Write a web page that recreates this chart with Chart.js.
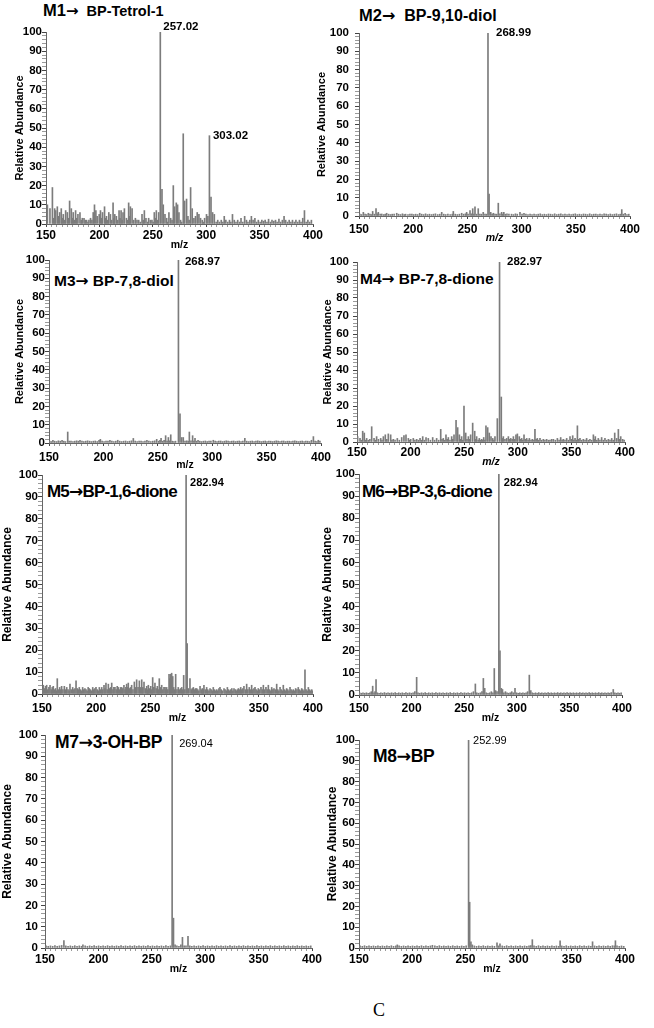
<!DOCTYPE html>
<html><head><meta charset="utf-8">
<script src="https://cdn.jsdelivr.net/npm/chart.js@4.4.1/dist/chart.umd.min.js"></script>
<style>
html,body{margin:0;padding:0;background:#fff;}
body{width:654px;height:1028px;position:relative;overflow:hidden;font-family:"Liberation Sans",Arial,sans-serif;}
canvas{position:absolute;}
.ttl{position:absolute;font-weight:bold;color:#000;white-space:pre;line-height:1;}
.ar{font-family:"DejaVu Sans",sans-serif;font-weight:bold;}
.cap{position:absolute;font-family:"Liberation Serif","Times New Roman",serif;font-size:18px;color:#000;line-height:1;}
</style></head><body>
<div class="ttl" style="left:43px;top:2px;"><span style="font-size:16.5px">M1</span><span class="ar" style="font-size:15px">→</span><span style="font-size:14.5px">  BP-Tetrol-1</span></div>
<div class="ttl" style="left:359px;top:7px;font-size:16px;"><span style="font-size:16.5px">M2</span><span class="ar">→</span>  BP-9,10-diol</div>
<div class="ttl" style="left:54px;top:273px;font-size:15.5px;">M3<span class="ar">→</span> BP-7,8-diol</div>
<div class="ttl" style="left:360px;top:271px;font-size:15.5px;">M4<span class="ar">→</span> BP-7,8-dione</div>
<div class="ttl" style="left:47px;top:483px;font-size:17px;letter-spacing:-0.8px;">M5<span class="ar">→</span>BP-1,6-dione</div>
<div class="ttl" style="left:362px;top:483px;font-size:17px;letter-spacing:-0.8px;">M6<span class="ar">→</span>BP-3,6-dione</div>
<div class="ttl" style="left:55px;top:734px;font-size:17.5px;letter-spacing:-0.4px;">M7<span class="ar">→</span>3-OH-BP</div>
<div class="ttl" style="left:373px;top:748px;font-size:17.5px;letter-spacing:-0.4px;">M8<span class="ar">→</span>BP</div>
<div class="cap" style="left:373px;top:1001px;">C</div>
<script>
// ---------- axis tick labels ----------
const xTickLabels = [150, 200, 250, 300, 350, 400];
const yTickLabels = [0, 10, 20, 30, 40, 50, 60, 70, 80, 90, 100];

// ---------- M1 -> BP-Tetrol-1 ----------
const m1Mz = [
151.3,153.7,156.0,157.2,158.1,159.0,160.6,161.7,162.8,164.3,
165.2,166.2,167.3,168.4,170.0,171.0,172.1,173.7,174.6,175.5,
176.5,177.7,178.8,179.9,181.8,183.0,184.0,185.6,186.7,188.0,
189.3,190.2,191.7,193.0,194.2,195.4,196.7,197.9,199.8,201.0,
202.0,202.9,204.8,205.7,206.6,207.7,208.8,210.3,211.5,212.8,
213.6,214.4,215.9,217.1,218.4,219.3,220.3,221.2,222.1,223.4,
225.3,226.3,227.4,228.2,229.0,230.6,232.1,233.7,235.2,236.8,
238.3,239.9,241.0,242.1,243.6,245.0,246.1,247.7,249.2,250.3,
251.4,252.4,253.3,254.4,255.5,257.02,258.6,259.8,261.4,263.0,
264.0,265.1,266.7,268.0,269.2,270.4,272.0,273.2,274.5,276.0,
277.0,278.5,279.8,281.6,282.9,284.0,285.4,286.9,288.5,290.0,
291.6,293.2,294.7,296.3,297.4,298.5,300.3,301.6,303.02,304.5,
306.0,307.6,309.3,310.8,312.4,314.1,315.6,316.9,318.4,320.2,
321.8,323.1,324.6,326.3,327.9,329.5,331.2,332.6,334.3,336.0,
337.7,339.1,340.8,342.3,343.9,345.6,347.2,348.8,350.5,352.1,
353.7,355.2,356.9,358.4,360.1,361.6,363.3,364.9,366.4,368.1,
369.7,371.3,372.9,374.4,376.1,377.7,379.3,380.8,382.5,384.0,
385.7,387.3,388.8,390.4,392.0,393.6,395.2,396.8,398.5];
const m1Ab = [
10,8,19,3,8,7,9,4,6,8,
3,5,2,7,6,3,12,8,3,6,
2,7,3,5,6,2,3,3,2,2,
1,2,3,2,6,10,7,4,5,7,
3,6,9,3,4,2,6,5,2,11,
3,5,4,2,7,3,7,2,6,8,
3,2,11,4,9,8,2,3,2,2,
1,5,2,7,3,1,3,2,2,1,
6,3,7,2,6,100,18,10,5,3,
1,6,3,2,20,9,11,10,6,2,
1,47,12,13,4,2,19,8,3,4,
6,5,3,2,1,3,5,4,46,14,
6,5,1,2,1,2,1,4,2,1,
2,1,5,2,1,2,1,3,1,4,
2,1,2,4,2,3,1,2,1,2,
1.5,2,1,2.5,1,2,1.5,2,1,2.5,
1,2,4,2,1,2,1,2,1,2,
1,2,1,3,7,1,2,1,2];
const m1Labeled = [257.02, 303.02];

// ---------- M2 -> BP-9,10-diol ----------
const m2Mz = [
150.8,152.3,154.0,155.6,157.0,158.6,160.1,161.4,162.6,164.2,
165.7,166.8,167.8,169.5,171.0,172.8,174.2,175.5,177.3,179.0,
180.6,182.4,184.8,186.5,188.3,190.1,191.7,193.0,195.2,197.0,
198.8,200.5,202.3,204.1,206.0,207.8,209.6,211.4,213.2,215.0,
216.9,218.7,220.5,222.6,224.5,226.3,228.2,230.0,232.0,234.1,
236.0,237.0,238.8,240.7,242.6,244.7,246.5,248.2,249.3,250.6,
252.4,253.6,254.9,256.0,257.0,258.5,260.0,261.5,263.0,264.6,
266.2,267.6,268.99,270.0,271.5,272.8,274.0,275.5,277.0,278.5,
280.0,281.6,282.6,283.6,285.0,286.5,288.3,290.7,292.5,294.3,
296.0,298.5,300.4,302.2,304.0,305.9,307.8,309.6,311.5,313.4,
315.3,317.2,319.1,321.0,322.9,324.8,326.7,328.6,330.5,332.4,
334.3,336.2,338.1,340.0,341.9,343.8,345.7,347.6,349.5,351.4,
353.3,355.2,357.1,359.0,360.9,362.8,364.7,366.6,368.5,370.4,
372.3,374.2,376.1,378.0,379.9,381.8,383.7,385.6,387.5,389.4,
391.0,392.4,393.8,395.5,397.2,398.9];
const m2Ab = [
1,0.8,2,1,0.8,1.5,1,0.8,2.5,1,
4,1.2,2,1,1.1,0.8,1,1.5,1,0.8,
1,1.1,1.5,1,0.8,1.2,0.8,1,0.8,1,
1.1,0.8,1,0.8,1.5,1,0.8,1.2,0.8,1,
0.8,1,1.2,0.8,1,2,1,0.8,1.1,0.8,
1,2.5,1,0.8,1,1.5,1,1.2,2,1,
3,1.2,4,1,5,1,4,1,1,2,
1,1,100,12,2,1,1.5,1,1,7,
1.2,2,1,2,1,1.2,1,1,0.8,1.2,
1,2,1,1.5,1,0.8,1,0.8,1.1,0.8,
1,1.2,0.8,1,0.8,1.1,1,0.8,1.2,0.8,
1,1.2,0.8,1,0.8,1.1,0.8,1,1.2,0.8,
1,0.8,1.1,1,0.8,1.2,0.8,1,1.1,0.8,
1,0.8,1.2,1,0.8,1.1,0.8,1,1.2,0.8,
1,3.5,1,1.5,0.8,1];
const m2Labeled = [268.99];

// ---------- M3 -> BP-7,8-diol ----------
const m3Mz = [
150.5,152.0,153.6,155.2,157.0,158.6,160.3,162.0,163.6,165.1,
167.2,168.5,170.2,172.0,173.7,175.4,177.0,178.5,180.3,182.0,
183.8,185.5,187.3,189.0,190.8,192.5,194.3,196.0,197.2,198.8,
200.6,202.4,204.2,206.0,207.8,209.6,211.4,213.2,215.0,216.8,
218.6,220.4,222.2,224.0,225.8,227.5,229.2,231.0,232.8,234.6,
236.4,238.2,240.0,241.8,243.6,245.4,247.2,249.0,250.8,252.0,
253.0,254.5,255.8,257.2,258.5,259.7,260.8,261.9,263.3,264.8,
266.3,268.97,270.4,271.9,273.4,275.0,276.6,278.0,279.0,280.5,
282.0,283.2,284.2,285.6,287.0,288.6,290.3,292.0,293.7,295.4,
297.1,298.8,301.0,302.7,304.4,306.1,307.8,309.5,311.2,312.9,
314.6,316.3,318.0,319.7,321.4,323.1,324.8,326.5,328.2,330.0,
331.7,333.4,335.1,336.8,338.5,340.2,341.9,343.6,345.3,347.0,
348.7,350.4,352.1,353.8,355.5,357.2,358.9,360.6,362.3,364.0,
365.7,367.4,369.1,370.8,372.5,374.2,375.9,377.6,379.3,381.0,
382.7,384.4,386.1,387.8,389.5,391.2,393.0,394.6,396.2,397.5,399.0];
const m3Ab = [
1,0.8,1.5,1,0.8,1.2,1,1.5,1,0.8,
6,1,1,0.8,1,1.2,1,1.5,1,0.8,
1,1.2,1,0.8,1,1.1,0.8,1.5,2,1,
0.8,1,1.1,1.5,1,0.8,1,1.5,1,0.8,
1,1.1,0.8,1,1.2,2.5,1,0.8,1,1.1,
0.8,1,1.5,1,0.8,1,1.2,2,1,1.5,
2.5,1,1.5,4,1,3,1.2,4.5,1,0.8,
1,100,16,3,3,1,1.2,1,6,1.2,
4,1,2.5,1,1.5,1,0.8,1,1.1,0.8,
1,1.1,1.5,1,0.8,1,1.1,0.8,1,1.2,
1,0.8,1,1.1,0.8,1,1.1,0.8,1,2.5,
1,0.8,1,1.1,0.8,1,1.2,1,0.8,1,
1.1,0.8,1,1,0.8,1,1.2,1,0.8,1,
1.1,0.8,1,1,0.8,1,1.2,1,0.8,1,
1.1,0.8,1,1,0.8,1.5,3.5,1,0.8,1.5,1];
const m3Labeled = [268.97];

// ---------- M4 -> BP-7,8-dione ----------
const m4Mz = [
150.6,152.8,154.0,155.3,156.8,158.0,159.0,160.5,162.0,163.7,
165.9,167.0,168.3,170.0,172.1,173.3,174.6,176.4,177.8,179.2,
181.4,182.6,183.9,185.5,187.6,189.5,191.7,193.8,195.7,197.9,
199.0,200.1,202.5,204.0,205.7,207.3,208.8,210.0,211.3,212.8,
214.4,216.5,218.5,220.6,222.4,224.3,226.2,228.1,229.3,230.5,
231.8,233.0,234.1,235.2,236.7,238.3,239.4,240.5,242.4,243.9,
245.5,246.6,247.6,248.7,249.8,251.4,252.6,253.9,255.0,256.0,
257.9,259.8,260.7,261.6,263.0,264.1,265.2,266.3,267.2,268.2,
269.3,270.3,271.9,273.4,275.0,276.6,277.7,278.7,280.9,282.97,
284.6,285.6,286.5,288.0,289.6,291.2,292.3,293.4,294.7,295.9,
297.1,298.3,299.6,301.4,302.5,303.6,304.7,305.8,307.0,308.3,
309.6,310.8,312.3,313.6,315.0,316.0,317.1,318.2,319.4,320.7,
322.2,323.8,325.3,326.9,328.5,330.0,331.6,333.2,335.0,336.9,
338.5,340.0,341.3,342.5,344.0,345.6,347.2,348.7,350.0,351.2,
352.3,353.4,354.5,355.6,356.8,358.0,359.5,361.1,362.7,364.2,
365.8,367.3,368.9,370.5,371.4,372.3,373.7,375.1,376.6,378.2,
379.7,381.3,382.9,384.5,386.0,387.6,389.0,390.4,392.2,393.8,
395.0,396.0,397.8,399.2];
const m4Ab = [
3,2,1,6,5,1,2,1,1.5,8.5,
2,1,3,1.5,2,1,3,4,1.5,4.5,
4,1,1.5,1,2,1,2.5,3.5,4,2,
1,1.5,2,1,1.5,1,2,1,3,1,
2.5,2,1,2.5,1,2,1,7,1.5,2,
1,4,1.5,2.5,1,3,1.5,4,12,8,
4,1.5,3,1,20,5,1.5,3,1.5,4,
10.5,6,1.5,3,1,2,1,1.5,1,2.5,
1,9,8,5,3,2,1,3,13,100,
25,2,3,1.5,2,3,1.5,2,1.5,3,
1.5,4,4.5,3,1.5,2,1,4,1.5,2,
1,2,1,1.5,1,7,1.5,2,1,2,
1,1.5,1,1.5,1,1,1.5,1.5,1,2,
1,2.5,1,1.5,1,2,1,3,1.5,3.5,
1,2,1,9,1.5,2,1,1.5,1,2,
1,1.5,1,4,1.5,3,1,2,1,2.5,
1,2,1,1.5,1,2,1,5,2,7,
1.5,3,1.5,1];
const m4Labeled = [282.97];

// ---------- M5 -> BP-1,6-dione ----------
const m5Mz = [
150.4,151.2,152.3,153.3,154.3,155.4,156.4,157.4,158.5,159.4,
160.4,161.5,162.5,163.3,164.1,165.2,166.3,167.2,168.1,169.3,
170.6,171.7,172.8,174.0,175.0,175.8,176.9,178.3,179.4,180.4,
181.4,182.5,183.4,184.4,185.5,186.4,187.5,188.6,189.6,190.6,
191.6,192.6,193.6,194.7,195.7,196.8,197.8,198.8,199.8,200.9,
201.9,202.9,204.0,205.1,206.1,207.2,208.1,209.0,210.1,211.2,
212.3,213.3,214.3,215.4,216.3,217.3,218.4,219.4,220.4,221.5,
222.5,223.5,224.5,225.6,226.6,227.4,228.1,228.8,229.6,230.7,
231.7,232.7,233.9,235.2,236.2,237.3,238.6,239.8,240.9,242.0,
243.0,244.1,245.4,246.6,247.4,248.1,249.2,250.3,251.2,252.1,
253.2,254.2,255.3,256.4,257.3,258.2,259.3,260.4,261.5,262.5,
263.5,264.3,265.0,266.1,267.2,267.9,268.7,269.6,270.6,271.5,
272.4,273.3,274.5,275.7,276.8,277.9,278.9,279.8,280.7,281.8,
282.94,283.9,285.0,286.5,287.6,288.6,289.6,290.6,291.6,292.7,
293.7,294.7,295.8,296.9,297.9,298.6,299.4,300.6,301.9,302.9,
304.0,305.0,306.0,307.0,308.0,309.1,310.1,311.2,312.2,313.2,
314.2,315.3,316.3,317.9,318.9,320.0,321.0,322.0,323.1,324.1,
325.1,326.1,327.1,328.2,329.2,330.2,331.2,332.3,333.3,334.3,
335.3,336.3,337.6,338.8,339.9,341.2,342.3,343.4,344.4,345.5,
346.5,347.5,348.5,349.5,350.6,352.0,353.1,354.2,355.3,356.6,
357.7,358.8,359.9,360.9,361.9,363.0,364.0,365.2,366.5,367.5,
368.5,369.6,370.6,371.6,372.6,373.7,374.7,375.7,376.7,377.8,
378.8,379.8,380.8,381.8,382.9,384.0,385.2,386.4,387.5,388.6,
389.6,390.6,391.6,392.6,393.6,394.6,395.7,396.7,397.8,398.8,399.6];
const m5Ab = [
2,4,2.5,3.5,4,2,3,4,2,3,
3.5,2,2.5,1.5,7,2,3,2,3.5,2,
3.5,2,3,2,1.5,4.5,2,3,2,2.5,
6,2.5,2,3,2,1.5,3,2,2.5,2,
1.5,3,2.5,2,1.5,3,2,2.5,3,2,
1.5,3,2,3,2,4,2.5,5,2,4.5,
2.5,3,5,2,3,3,2,3.5,3,2,
3,3,2.5,4,2,3,4.5,3,5,2.5,
3,4,2,5.5,3,6.5,3,6,3,6.5,
3,5.5,2.5,3.5,2,4,2.5,3.5,2,7.5,
3,5,2.5,3.5,2,7,3,4,2,3,
3,2,3,2,9,7,9,9.5,8,3,
2,9,2,3,2,2.5,3,2,8.5,2,
100,23,2.5,7,2,2.5,3,2,2.5,2.5,
2,1.5,3.5,2,2.5,2,4,2,3,2,
1.5,2.5,2,1.5,3,2,1.5,2,1.5,2.5,
3,2,1.5,2.5,2,1.5,3,2,1.5,2,
2.5,1.5,2.5,2,1.5,2,2.5,2,3,2,
2.5,3.5,2,4.5,2,3,2,4,2,2.5,
3,2,1.5,2.5,2,3,2,4,2,3,
2,4,2,1.5,3,2,2.5,2,4.5,2,
1.5,3,2,1.5,4,2,1.5,2.5,2,1.5,
3,2,1.5,2,1.5,2.5,2,3,2,1.5,
2.5,2,1.5,11,2,1.5,3,2,1.5,2,1.5];
const m5Labeled = [282.94];

// ---------- M6 -> BP-3,6-dione ----------
const m6Mz = [
150.6,152.2,153.8,155.5,157.1,158.7,160.3,161.7,163.0,164.3,
165.3,166.2,167.5,169.1,170.8,172.5,174.2,175.9,177.6,179.3,
181.0,182.7,184.4,186.1,187.8,189.5,191.2,192.9,194.6,196.3,
198.0,199.7,201.4,203.1,204.8,206.1,207.8,209.5,211.2,212.9,
214.6,216.3,218.0,219.7,221.4,223.1,224.8,226.5,228.2,229.9,
231.6,233.3,235.0,236.7,238.4,240.1,241.8,243.5,245.2,246.9,
248.6,250.3,252.0,253.7,255.4,257.1,258.8,260.6,262.0,263.7,
265.4,266.9,268.2,269.5,271.0,272.6,274.2,275.8,277.3,278.6,
279.8,281.2,282.94,284.0,285.3,286.4,287.7,289.2,290.7,292.2,
293.7,295.2,296.7,298.3,299.8,301.3,302.8,304.3,305.8,307.3,
308.8,310.3,311.9,313.3,314.8,316.3,317.8,319.3,320.8,322.3,
323.8,325.3,326.8,328.3,329.8,331.3,332.8,334.3,335.8,337.3,
338.8,340.3,341.8,343.3,344.8,346.3,347.8,349.3,350.8,352.3,
353.8,355.3,356.8,358.3,359.8,361.3,362.8,364.3,365.8,367.3,
368.8,370.3,371.8,373.3,374.8,376.3,377.8,379.3,380.8,382.3,
383.8,385.3,386.8,388.3,389.8,391.7,393.2,394.7,396.2,397.7,399.2];
const m6Ab = [
1,0.8,1,0.8,1,0.8,1,1.5,4,1,
1.5,7,1,0.8,1,0.8,1.1,0.8,1,0.8,
1,0.8,1.1,0.8,1,0.8,1,0.8,1.1,0.8,
1,0.8,1,1.5,8,1,0.8,1,0.8,1.1,
0.8,1,0.8,1,0.8,1.1,0.8,1,0.8,1,
0.8,1,0.8,1.1,0.8,1,0.8,1,0.8,1.1,
0.8,1,0.8,1,0.8,1,1.5,5,1,0.8,
1,1.5,7.5,3,1,0.8,1,1.5,1,12,
2,1.5,100,20,3,2.5,1,1.5,1,0.8,
1,1.5,1,3,1,0.8,1,0.8,1,0.8,
1,1.5,9,2,1,0.8,1,0.8,1.1,0.8,
1,0.8,1,0.8,1.1,0.8,1,0.8,1,0.8,
1.1,0.8,1,0.8,1,0.8,1.1,0.8,1,0.8,
1,0.8,1,0.8,1.1,0.8,1,0.8,1,0.8,
1.1,0.8,1,0.8,1,0.8,1.1,0.8,1,0.8,
1,0.8,1,0.8,1.1,2.5,1,0.8,1,0.8,1];
const m6Labeled = [282.94];

// ---------- M7 -> 3-OH-BP ----------
const m7Mz = [
151.0,153.0,155.1,157.2,159.3,161.4,163.5,165.6,167.7,169.5,
171.6,173.7,175.8,177.9,180.0,182.1,184.2,185.5,187.6,189.7,
191.8,193.9,196.0,198.1,200.2,202.3,204.4,206.5,208.6,210.7,
212.8,214.9,217.0,219.1,221.2,223.3,225.4,227.5,229.6,231.7,
233.8,235.9,238.0,240.1,242.2,244.3,246.4,248.5,250.6,252.7,
254.8,256.9,259.0,261.1,263.2,265.3,267.4,269.04,270.3,271.8,
273.5,275.4,277.2,278.7,280.3,282.0,283.9,285.6,287.5,289.6,
291.7,293.8,295.9,298.0,300.1,302.2,304.3,306.4,308.5,310.6,
312.7,314.8,316.9,319.0,321.1,323.2,325.3,327.4,329.5,331.6,
333.7,335.8,337.9,340.0,342.1,344.2,346.3,348.4,350.5,352.6,
354.7,356.8,358.9,361.0,363.1,365.2,367.3,369.4,371.5,373.6,
375.7,377.8,379.9,382.0,384.1,386.2,388.3,390.4,392.5,394.6,396.7,398.8];
const m7Ab = [
1,0.8,1,0.8,1.1,0.8,1,1.2,3.5,1,
0.8,1,0.8,1.1,0.8,1,0.8,1.5,1,0.8,
1,0.8,1.1,0.8,1,0.8,1,0.8,1.1,0.8,
1,0.8,1,0.8,1.1,0.8,1,0.8,1,0.8,
1.1,0.8,1,0.8,1,0.8,1.1,0.8,1,0.8,
1,0.8,1,0.8,1.1,0.8,1,100,14,1.5,
1,0.8,1.5,5,1,1,5.5,1,0.8,1,
0.8,1,0.8,1.1,0.8,1,0.8,1,0.8,1.1,
0.8,1,0.8,1,0.8,1.1,0.8,1,0.8,1,
0.8,1.1,0.8,1,0.8,1,0.8,1.1,0.8,1,
0.8,1,0.8,1.1,0.8,1,0.8,1,0.8,1.1,
0.8,1,0.8,1,0.8,1.1,0.8,1,0.8,1,0.8,1];
const m7Labeled = [269.04];

// ---------- M8 -> BP ----------
const m8Mz = [
151.0,153.1,155.2,157.3,159.4,161.5,163.6,165.7,167.8,169.9,
172.0,174.1,176.2,178.3,180.4,182.5,184.6,186.0,187.7,189.8,
191.9,194.0,196.1,198.2,200.3,202.4,204.5,206.6,208.7,210.8,
212.9,215.0,217.1,219.0,221.3,223.4,225.5,227.6,229.7,231.8,
233.9,236.0,238.1,240.2,242.3,244.4,246.5,248.6,250.7,252.99,
254.0,255.2,256.5,258.4,260.5,262.6,264.7,266.8,268.9,271.0,
273.1,275.2,277.3,279.7,281.0,282.5,284.6,286.7,288.8,290.9,
293.0,295.1,297.2,299.3,301.4,303.5,305.6,307.7,309.8,311.5,
312.9,314.5,316.6,318.7,320.8,322.9,325.0,327.1,329.2,331.3,
333.4,335.5,337.6,339.0,340.6,342.7,344.8,346.9,349.0,351.1,
353.2,355.3,357.4,359.5,361.6,363.7,365.8,367.9,369.5,371.4,
373.5,375.6,377.7,379.8,381.9,384.0,386.1,388.2,390.0,391.0,392.5,394.6,396.7,398.8];
const m8Ab = [
1,0.8,1.1,0.8,1,0.8,1,0.8,1.1,0.8,
1,0.8,1,0.8,1.1,0.8,1,1.5,1,0.8,
1,0.8,1.1,0.8,1,0.8,1,0.8,1.1,0.8,
1,0.8,1,1.3,1,0.8,1.1,0.8,1,0.8,
1,0.8,1.1,0.8,1,0.8,1,0.8,1.1,100,
22,3,1.5,1,0.8,1,0.8,1.1,0.8,1,
0.8,1,0.8,2.5,1,2,1,0.8,1.1,0.8,
1,0.8,1,0.8,1.1,0.8,1,0.8,1,1.2,
4,1,0.8,1.1,0.8,1,0.8,1,0.8,1.1,
0.8,1,0.8,3.5,1,0.8,1.1,0.8,1,0.8,
1,0.8,1.1,0.8,1,0.8,1,0.8,3,1,
0.8,1.1,0.8,1,0.8,1,0.8,1.1,1,3.5,1,0.8,1,0.8];
const m8Labeled = [252.99];

// ---------- layout / style (pixels) ----------
const FONT = '"Liberation Sans", Arial, Helvetica, sans-serif';
const Y_W = 46, PAD_T = 16, PAD_R = 18;
const panels = [
 {mz:m1Mz, ab:m1Ab, lab:m1Labeled, L:46, R:313, T:32, B:224, yPad:0, yTP:13.4, yTS:11, xPad:1, xH:27, it:false, lf:'bold 11.5px', lo:[[3,-5],[3.5,0]]},
 {mz:m2Mz, ab:m2Ab, lab:m2Labeled, L:359,R:630, T:33, B:216, yPad:6, yTP:2.4, yTS:11, xPad:3, xH:28, it:true,  lf:'bold 11.5px', lo:[[8,0]]},
 {mz:m3Mz, ab:m3Ab, lab:m3Labeled, L:49, R:321, T:260,B:443, yPad:0, yTP:10.4,yTS:11, xPad:4, xH:28, it:false, lf:'bold 11.5px', lo:[[6.5,2]]},
 {mz:m4Mz, ab:m4Ab, lab:m4Labeled, L:357,R:625, T:262,B:442, yPad:4, yTP:10.4,yTS:11, xPad:0, xH:26, it:true,  lf:'bold 11.5px', lo:[[7.5,0]]},
 {mz:m5Mz, ab:m5Ab, lab:m5Labeled, L:42, R:313, T:475,B:694, yPad:0, yTP:4.8, yTS:12, xPad:4, xH:30, it:false, lf:'bold 11px', lo:[[4,8]]},
 {mz:m6Mz, ab:m6Ab, lab:m6Labeled, L:359,R:622, T:474,B:695, yPad:0, yTP:7.8, yTS:12, xPad:3, xH:29, it:false, lf:'bold 11px', lo:[[5,9]]},
 {mz:m7Mz, ab:m7Ab, lab:m7Labeled, L:45, R:312, T:735,B:948, yPad:3, yTP:1.8, yTS:12, xPad:1, xH:27, it:false, lf:'11px', lo:[[7,9]]},
 {mz:m8Mz, ab:m8Ab, lab:m8Labeled, L:359,R:625, T:740,B:948, yPad:0, yTP:12.8,yTS:12, xPad:1, xH:27, it:false, lf:'11px', lo:[[4.5,1]]}
];

Chart.defaults.font.family = FONT;
Chart.defaults.color = '#000';

// minor tick positions derived from the major tick labels
const xTicks = [];
for (let i = 0; i < xTickLabels.length - 1; i++) {
  for (let k = 0; k < 10; k++) xTicks.push(xTickLabels[i] + k * (xTickLabels[i+1] - xTickLabels[i]) / 10);
}
xTicks.push(xTickLabels[xTickLabels.length - 1]);
const yTicks = [];
for (let i = 0; i < yTickLabels.length - 1; i++) {
  for (let k = 0; k < 5; k++) yTicks.push(yTickLabels[i] + k * (yTickLabels[i+1] - yTickLabels[i]) / 5);
}
yTicks.push(yTickLabels[yTickLabels.length - 1]);

panels.forEach((p) => {
  const cv = document.createElement('canvas');
  const W = Y_W + (p.R - p.L) + PAD_R;
  const H = PAD_T + (p.B - p.T) + p.xH;
  cv.width = W; cv.height = H;
  cv.style.left = (p.L - Y_W) + 'px';
  cv.style.top = (p.T - PAD_T) + 'px';
  cv.style.width = W + 'px';
  cv.style.height = H + 'px';
  document.body.appendChild(cv);

  const labelPlugin = {
    id: 'peakLabels',
    afterDatasetsDraw(chart) {
      const ctx = chart.ctx, xs = chart.scales.x, ys = chart.scales.y;
      ctx.save();
      ctx.font = p.lf + ' ' + FONT;
      ctx.fillStyle = '#000';
      ctx.textAlign = 'left';
      ctx.textBaseline = 'middle';
      p.lab.forEach((m, j) => {
        const v = p.ab[p.mz.indexOf(m)];
        const off = p.lo[j] || [4, 0];
        ctx.fillText(m.toFixed(2), xs.getPixelForValue(m) + off[0], ys.getPixelForValue(v) + off[1]);
      });
      ctx.restore();
    }
  };

  new Chart(cv, {
    type: 'bar',
    data: {
      datasets: [{
        data: p.mz.map((m, i) => ({x: m, y: p.ab[i]})),
        backgroundColor: '#7c7c7c',
        borderWidth: 0,
        barThickness: 1,
        grouped: false
      }]
    },
    options: {
      responsive: false,
      animation: false,
      devicePixelRatio: 1,
      layout: {padding: {left: 0, top: PAD_T, right: PAD_R, bottom: 0}},
      plugins: {legend: {display: false}, tooltip: {enabled: false}},
      scales: {
        x: {
          type: 'linear', min: 150, max: 400, offset: false,
          afterBuildTicks: s => { s.ticks = xTicks.map(v => ({value: v})); },
          afterFit: s => { s.height = p.xH; },
          ticks: {
            autoSkip: false, maxRotation: 0, minRotation: 0, padding: p.xPad,
            font: {size: 12, weight: 'bold'}, color: '#000',
            callback: v => xTickLabels.includes(v) ? String(v) : ''
          },
          grid: {
            offset: false, drawOnChartArea: false, drawTicks: true, tickLength: 3,
            tickColor: c => (c.tick && xTickLabels.includes(c.tick.value)) ? '#444' : '#9a9a9a'
          },
          border: {display: true, color: '#666', width: 1},
          title: {display: true, text: 'm/z', color: '#000',
                  font: {size: 10.5, weight: 'bold', style: p.it ? 'italic' : 'normal'},
                  padding: {top: 0, bottom: 0}}
        },
        y: {
          type: 'linear', min: 0, max: 100,
          afterBuildTicks: s => { s.ticks = yTicks.map(v => ({value: v})); },
          afterFit: s => { s.width = Y_W; },
          ticks: {
            autoSkip: false, padding: p.yPad,
            font: {size: 11.5, weight: 'bold'}, color: '#000',
            callback: v => yTickLabels.includes(v) ? String(v) : ''
          },
          grid: {
            drawOnChartArea: false, drawTicks: true, tickLength: 4,
            tickColor: c => (c.tick && yTickLabels.includes(c.tick.value)) ? '#444' : '#9a9a9a'
          },
          border: {display: true, color: '#666', width: 1},
          title: {display: true, text: 'Relative Abundance', color: '#000',
                  font: {size: p.yTS, weight: 'bold'}, padding: {top: p.yTP, bottom: 0}}
        }
      }
    },
    plugins: [labelPlugin]
  });
});
</script>
</body></html>
